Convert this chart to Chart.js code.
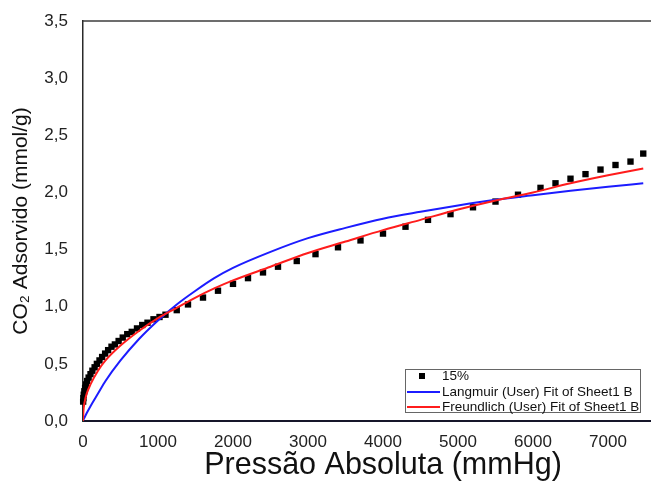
<!DOCTYPE html>
<html>
<head>
<meta charset="utf-8">
<script src="https://cdn.jsdelivr.net/npm/chart.js@4/dist/chart.umd.min.js"></script>
<style>
  html, body { margin: 0; padding: 0; background: #fff; overflow: hidden; }
  #wrap { width: 651px; height: 484px; overflow: hidden; }
  canvas { display: block; }
</style>
</head>
<body>
<div id="wrap"><canvas id="c" width="720" height="484"></canvas></div>
<script>
// CO2 adsorption isotherm (15%) with Langmuir and Freundlich fits
const pressure = [2, 5, 10, 18, 28, 40, 55, 75, 100, 125, 155, 185, 220, 255, 295, 335, 380, 425, 475, 530,
  590, 650, 720, 790, 860, 940, 1020, 1100, 1250, 1400, 1600, 1800, 2000, 2200, 2400, 2600, 2850, 3100, 3400, 3700,
  4000, 4300, 4600, 4900, 5200, 5500, 5800, 6100, 6300, 6500, 6700, 6900, 7100, 7300, 7470];
const adsorbed = [0.17, 0.20, 0.23, 0.26, 0.29, 0.32, 0.35, 0.38, 0.41, 0.44, 0.47, 0.50, 0.53, 0.56, 0.59, 0.62, 0.65, 0.67, 0.70, 0.73,
  0.76, 0.78, 0.81, 0.84, 0.86, 0.89, 0.91, 0.93, 0.97, 1.02, 1.08, 1.14, 1.20, 1.25, 1.30, 1.35, 1.40, 1.46, 1.52, 1.58,
  1.64, 1.70, 1.76, 1.81, 1.87, 1.92, 1.98, 2.04, 2.08, 2.12, 2.16, 2.20, 2.24, 2.27, 2.34];

const fitPressure = [0, 5, 20, 50, 100, 200, 300, 500, 750, 1000, 1250, 1500, 1750, 2000, 2500, 3000, 3500, 4000, 4500, 5000, 5500, 6000, 6500, 7000, 7470];
const langmuirFit = [0, 0.01, 0.03, 0.07, 0.13, 0.24, 0.35, 0.53, 0.72, 0.88, 1.02, 1.14, 1.25, 1.34, 1.48, 1.60, 1.69, 1.77, 1.83, 1.885, 1.935, 1.975, 2.015, 2.05, 2.08];
const freundlichFit = [0, 0.08, 0.16, 0.24, 0.32, 0.44, 0.53, 0.66, 0.79, 0.90, 0.99, 1.08, 1.16, 1.23, 1.35, 1.47, 1.57, 1.67, 1.76, 1.85, 1.93, 2.00, 2.08, 2.15, 2.21];

const xTickLabels = ['0', '1000', '2000', '3000', '4000', '5000', '6000', '7000', '8000'];
const yTickLabels = ['0,0', '0,5', '1,0', '1,5', '2,0', '2,5', '3,0', '3,5'];

const seriesNames = ['15%', 'Langmuir (User) Fit of Sheet1 B', 'Freundlich (User) Fit of Sheet1 B'];
const FONT = "'Liberation Sans', Arial, Helvetica, sans-serif";

const toXY = (xs, ys) => xs.map((x, i) => ({ x: x, y: ys[i] }));

// frame top edge + boxed legend in the lower right of the plot
const framePlugin = {
  id: 'frameAndLegend',
  afterDraw(chart) {
    const { ctx, chartArea: a } = chart;
    ctx.save();
    ctx.strokeStyle = '#3c3c3c';
    ctx.lineWidth = 1.5;
    ctx.beginPath();
    ctx.moveTo(a.left, a.top);
    ctx.lineTo(a.right, a.top);
    ctx.stroke();

    // legend box
    const bx = 405.5, by = 369.5, bw = 235, bh = 43;
    ctx.fillStyle = '#fff';
    ctx.fillRect(bx, by, bw, bh);
    ctx.strokeStyle = '#666';
    ctx.lineWidth = 1;
    ctx.strokeRect(bx, by, bw, bh);

    const ds = chart.data.datasets;
    const rows = [376, 392, 407];
    ctx.font = '13.5px ' + FONT;
    ctx.textBaseline = 'middle';
    ctx.textAlign = 'left';
    rows.forEach((ry, i) => {
      const d = ds[i];
      if (i === 0) {
        ctx.fillStyle = d.backgroundColor;
        ctx.fillRect(419, ry - 3, 6, 6);
      } else {
        ctx.strokeStyle = d.borderColor;
        ctx.lineWidth = 2;
        ctx.beginPath();
        ctx.moveTo(407, ry);
        ctx.lineTo(440, ry);
        ctx.stroke();
      }
      ctx.fillStyle = '#111';
      ctx.fillText(d.label, 442, ry + 0.5);
    });
    ctx.restore();
  }
};

new Chart(document.getElementById('c'), {
  type: 'scatter',
  data: {
    datasets: [
      {
        type: 'scatter',
        label: seriesNames[0],
        data: toXY(pressure, adsorbed),
        pointStyle: 'rect',
        pointRadius: 4.5,
        pointHoverRadius: 4.5,
        backgroundColor: '#000',
        borderColor: '#000',
        borderWidth: 0,
        clip: 12,
        order: 3
      },
      {
        type: 'line',
        label: seriesNames[1],
        data: toXY(fitPressure, langmuirFit),
        borderColor: '#1c1cff',
        backgroundColor: '#1c1cff',
        borderWidth: 2,
        pointRadius: 0,
        cubicInterpolationMode: 'monotone',
        fill: false,
        order: 2
      },
      {
        type: 'line',
        label: seriesNames[2],
        data: toXY(fitPressure, freundlichFit),
        borderColor: '#ff1c1c',
        backgroundColor: '#ff1c1c',
        borderWidth: 2,
        pointRadius: 0,
        cubicInterpolationMode: 'monotone',
        fill: false,
        order: 1
      }
    ]
  },
  options: {
    responsive: false,
    animation: false,
    devicePixelRatio: 1,
    layout: { padding: { left: 0, top: 21, right: 37, bottom: 0 } },
    plugins: {
      legend: { display: false },
      tooltip: { enabled: false }
    },
    scales: {
      x: {
        type: 'linear',
        min: 0,
        max: 8000,
        afterFit: s => { s.height = 63; },
        afterBuildTicks: s => { s.ticks = xTickLabels.map(v => ({ value: Number(v) })); },
        grid: { display: false, drawTicks: false },
        border: { display: true, color: '#16162a', width: 2 },
        ticks: {
          autoSkip: false,
          maxRotation: 0,
          padding: 11,
          color: '#222',
          font: { family: FONT, size: 17 },
          callback: (v, i) => xTickLabels[i]
        },
        title: {
          display: true,
          text: 'Pressão Absoluta (mmHg)',
          color: '#111',
          font: { family: FONT, size: 30.5 },
          padding: { top: 0, bottom: 0 }
        }
      },
      y: {
        type: 'linear',
        min: 0,
        max: 3.5,
        afterFit: s => { s.width = 83; s.paddingTop = 0; s.paddingBottom = 0; },
        afterBuildTicks: s => { s.ticks = yTickLabels.map((t, i) => ({ value: i * 0.5 })); },
        grid: { display: false, drawTicks: false },
        border: { display: true, color: '#2a2a2a', width: 1.5 },
        ticks: {
          autoSkip: false,
          padding: 15,
          color: '#222',
          font: { family: FONT, size: 17 },
          callback: (v, i) => yTickLabels[i]
        },
        title: {
          display: true,
          text: 'CO₂ Adsorvido (mmol/g)',
          color: '#111',
          font: { family: FONT, size: 21 },
          padding: { top: 9, bottom: 0 }
        }
      }
    }
  },
  plugins: [framePlugin]
});
</script>
</body>
</html>
